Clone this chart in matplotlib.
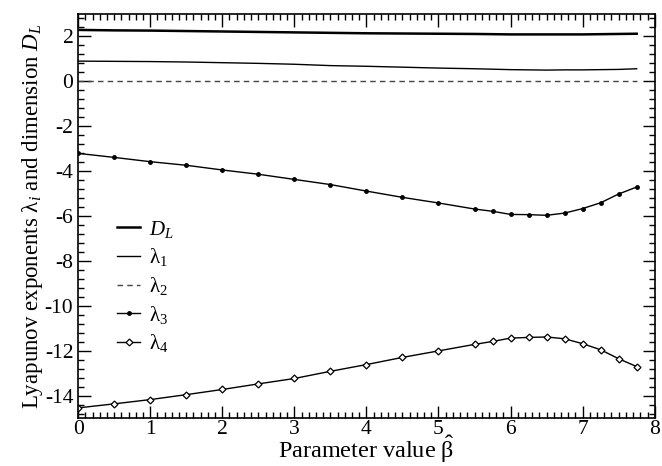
import matplotlib
matplotlib.use('Agg')
import matplotlib.pyplot as plt
from matplotlib.ticker import MultipleLocator

# parameter values where the exponents were computed
beta = [0, 0.5, 1, 1.5, 2, 2.5, 3, 3.5, 4, 4.5, 5, 5.5, 5.75,
        6, 6.25, 6.5, 6.75, 7, 7.25, 7.5, 7.75]

dim_L = [2.29, 2.27, 2.26, 2.24, 2.22, 2.20, 2.18, 2.16, 2.14, 2.13, 2.12,
         2.11, 2.10, 2.09, 2.09, 2.09, 2.09, 2.09, 2.10, 2.11, 2.12]
lam1 = [0.90, 0.89, 0.88, 0.86, 0.83, 0.80, 0.76, 0.70, 0.67, 0.63, 0.59,
        0.56, 0.54, 0.52, 0.51, 0.50, 0.51, 0.51, 0.52, 0.53, 0.56]
lam2 = [0.0] * len(beta)
lam3 = [-3.21, -3.39, -3.58, -3.74, -3.95, -4.14, -4.37, -4.60, -4.89, -5.17,
        -5.42, -5.69, -5.79, -5.93, -5.94, -5.97, -5.87, -5.67, -5.41, -5.02, -4.71]
lam4 = [-14.55, -14.37, -14.18, -13.96, -13.73, -13.48, -13.24, -12.92, -12.62,
        -12.30, -12.01, -11.72, -11.59, -11.44, -11.41, -11.39, -11.47, -11.69,
        -11.96, -12.36, -12.71]

plt.rcParams['font.family'] = ['Liberation Serif', 'DejaVu Serif']
plt.rcParams['mathtext.fontset'] = 'custom'
plt.rcParams['mathtext.rm'] = 'Liberation Serif'
plt.rcParams['mathtext.it'] = 'Liberation Serif:italic'
plt.rcParams['axes.unicode_minus'] = False

fig = plt.figure(figsize=(6.62, 4.66), dpi=100)
ax = fig.add_axes([0.118, 0.103, 0.871, 0.867])

ax.plot(beta, dim_L, color='black', lw=1.8, label='$D_L$')
ax.plot(beta, lam1, color='black', lw=1.0, label='λ$_1$')
ax.plot(beta, lam2, color='#444444', lw=1.0, ls=(0, (4, 3)), label='λ$_2$')
ax.plot(beta, lam3, color='black', lw=1.0, marker='o', ms=2.5, label='λ$_3$')
ax.plot(beta, lam4, color='black', lw=1.0, marker='D', ms=3.5,
        mfc='white', mew=0.9, label='λ$_4$')

ax.set_xlim(0, 8)
ax.set_ylim(-15, 3)
ax.xaxis.set_major_locator(MultipleLocator(1))
ax.xaxis.set_minor_locator(MultipleLocator(0.1))
ax.yaxis.set_major_locator(MultipleLocator(2))
ax.yaxis.set_minor_locator(MultipleLocator(0.4))
ax.tick_params(which='both', direction='in', top=True, right=True,
               labelsize=15.5, width=1.0)
ax.tick_params(which='major', length=9)
ax.tick_params(axis='x', which='major', pad=1.5)
ax.tick_params(which='minor', length=4.5)
for s in ax.spines.values():
    s.set_linewidth(1.2)

ax.set_xlabel(r'Parameter value $\hat{\mathrm{\beta}}$', fontsize=17.5, labelpad=-4)
ax.set_ylabel('Lyapunov exponents λ$_i$ and dimension $D_L$', fontsize=16.5, labelpad=0)

ax.legend(loc='upper left', bbox_to_anchor=(0.035, 0.54), frameon=False,
          fontsize=15, handlelength=1.1, labelspacing=0.32, handletextpad=0.45)

fig.savefig('out.png', dpi=100)
